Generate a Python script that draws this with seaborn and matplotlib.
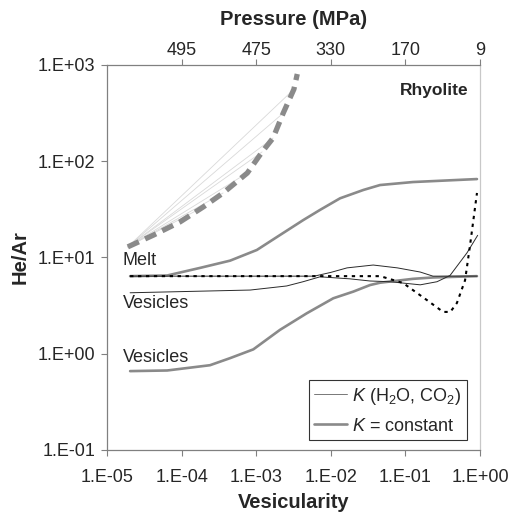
import numpy as np
import pandas as pd
import seaborn as sns
import matplotlib
matplotlib.use("Agg")
from matplotlib import pyplot as plt
from matplotlib.ticker import FuncFormatter, NullLocator

# --- data (vesicularity, He/Ar) ---
melt_const_x = [2.04e-5, 6.4e-5, 1.77e-4, 4.46e-4, 1.02e-3, 2.08e-3, 4.28e-3, 7.16e-3, 1.33e-2, 2.73e-2, 4.57e-2, 1.26e-1, 0.91]
melt_const_y = [6.4, 6.5, 7.8, 9.27, 11.97, 17.1, 24.5, 31.2, 41.2, 50.3, 56.6, 60.8, 65.3]

ves_const_x = [2.04e-5, 6.4e-5, 2.4e-4, 4.46e-4, 9.14e-4, 2.08e-3, 4.75e-3, 1.08e-2, 2.0e-2, 3.35e-2, 4.57e-2, 0.126, 0.234, 0.91]
ves_const_y = [0.66, 0.67, 0.76, 0.90, 1.11, 1.77, 2.63, 3.77, 4.42, 5.17, 5.47, 6.0, 6.2, 6.4]

melt_var_x = [2.04e-5, 6.0e-3, 1.0e-2, 1.65e-2, 3.7e-2, 7.8e-2, 0.158, 0.234, 0.91]
melt_var_y = [6.4, 6.4, 7.0, 7.8, 8.35, 7.8, 7.06, 6.4, 6.4]

ves_var_x = [2.04e-5, 8.3e-4, 2.56e-3, 4.28e-3, 7.16e-3, 1.8e-2, 3.35e-2, 6.2e-2, 0.158, 0.265, 0.396, 0.67, 0.93]
ves_var_y = [4.3, 4.59, 5.06, 5.61, 6.3, 6.0, 5.7, 5.6, 5.2, 5.6, 6.5, 11.2, 17.0]

dotted_x = [2.04e-5, 4.6e-2, 9.3e-2, 0.195, 0.32, 0.40, 0.49, 0.63, 0.73, 0.91]
dotted_y = [6.4, 6.4, 5.43, 3.6, 2.72, 2.72, 3.37, 5.8, 12.9, 46.8]

dash_x = [1.9e-5, 4.2e-5, 9.5e-5, 1.95e-4, 3.6e-4, 7.6e-4, 1.2e-3, 1.68e-3, 2.3e-3, 3.2e-3, 3.55e-3]
dash_y = [12.9, 17.1, 23.4, 33.5, 46.8, 75.5, 125, 174, 316, 560, 806]
fan_ends = [3, 4, 5, 6, 7, 8, 9]   # dashed points that the thin fan lines reach

top_ticks = [1e-4, 1e-3, 1e-2, 1e-1, 1e0]
pressure_labels = ["495", "475", "330", "170", "9"]

sns.set_style("white")
plt.rcParams['font.family'] = ['Liberation Sans', 'DejaVu Sans']
plt.rcParams['mathtext.fontset'] = 'custom'
plt.rcParams['mathtext.rm'] = 'Liberation Sans'
plt.rcParams['mathtext.it'] = 'Liberation Sans:italic'

GRAY = '#8a8a8a'
DARK = '#2a2a2a'

fig = plt.figure(figsize=(5.14, 5.17), dpi=100)
ax = fig.add_axes([0.2082, 0.1296, 0.7257, 0.7447])

# fan of faint lines from the start point to the dashed curve
for i in fan_ends:
    fan = pd.DataFrame({'x': [dash_x[0], dash_x[i]], 'y': [dash_y[0], dash_y[i]]})
    sns.lineplot(data=fan, x='x', y='y', ax=ax, color='#d9d9d9', lw=0.6, estimator=None, sort=False)

d = pd.DataFrame({'x': dash_x, 'y': dash_y})
sns.lineplot(data=d, x='x', y='y', ax=ax, color=GRAY, lw=3.8, estimator=None, sort=False)
ax.lines[-1].set_dashes([2.3, 1.3])
ax.lines[-1].set_dash_capstyle('butt')

def draw(xs, ys, **kw):
    df = pd.DataFrame({'x': xs, 'y': ys})
    sns.lineplot(data=df, x='x', y='y', ax=ax, estimator=None, sort=False, **kw)

draw(melt_const_x, melt_const_y, color=GRAY, lw=1.9, label='$K$ = constant')
draw(ves_const_x, ves_const_y, color=GRAY, lw=1.9)
draw(melt_var_x, melt_var_y, color=DARK, lw=0.7, label='$K$ (H$_2$O, CO$_2$)')
draw(ves_var_x, ves_var_y, color=DARK, lw=0.7)
draw(dotted_x, dotted_y, color='black', lw=1.5)
ax.lines[-1].set_linestyle((0, (1.6, 2.2)))

ax.set_xscale('log')
ax.set_yscale('log')
ax.set_xlim(1e-5, 1e0)
ax.set_ylim(1e-1, 1e3)

fmt = FuncFormatter(lambda v, _: "1.E%+03d" % round(np.log10(v)))
ax.xaxis.set_major_formatter(fmt)
ax.yaxis.set_major_formatter(fmt)
ax.xaxis.set_minor_locator(NullLocator())
ax.yaxis.set_minor_locator(NullLocator())
ax.tick_params(axis='both', which='major', direction='out', length=4, width=0.8,
               color='#808080', labelsize=13, bottom=True, left=True)
ax.tick_params(axis='x', pad=10)
ax.tick_params(axis='y', pad=4.5)

for s in ['left', 'bottom', 'top']:
    ax.spines[s].set_color('#808080')
    ax.spines[s].set_linewidth(0.9)
ax.spines['right'].set_color('#c8c8c8')
ax.spines['right'].set_linewidth(0.9)

ax.set_xlabel('Vesicularity', fontsize=14.5, fontweight='bold', labelpad=5)
ax.set_ylabel('He/Ar', fontsize=14.5, fontweight='bold', labelpad=6)

ax2 = ax.twiny()
ax2.set_xscale('log')
ax2.set_xlim(ax.get_xlim())
ax2.set_xticks(top_ticks)
ax2.set_xticklabels(pressure_labels)
ax2.xaxis.set_minor_locator(NullLocator())
ax2.tick_params(axis='x', direction='out', length=4, width=0.8, color='#808080',
                labelsize=13, pad=0.5)
for s in ax2.spines.values():
    s.set_visible(False)
ax2.set_xlabel('Pressure (MPa)', fontsize=14.5, fontweight='bold', labelpad=12)

ax.text(1.62e-5, 9.4, 'Melt', fontsize=13, ha='left', va='center')
ax.text(1.62e-5, 3.29, 'Vesicles', fontsize=13, ha='left', va='center')
ax.text(1.62e-5, 0.925, 'Vesicles', fontsize=13, ha='left', va='center')
ax.text(0.968, 0.935, 'Rhyolite', transform=ax.transAxes, fontsize=12.5,
        fontweight='bold', ha='right', va='center')

h, l = ax.get_legend_handles_labels()
leg = ax.legend(h[::-1], l[::-1], loc='lower right', bbox_to_anchor=(0.965, 0.026),
                fontsize=13, frameon=True, fancybox=False, edgecolor='black',
                handlelength=1.8, handletextpad=0.3, labelspacing=0.6,
                borderpad=0.3, borderaxespad=0)
leg.get_frame().set_linewidth(0.8)
leg.get_lines()[0].set_color('#777777')

fig.savefig('out.png', dpi=100)
